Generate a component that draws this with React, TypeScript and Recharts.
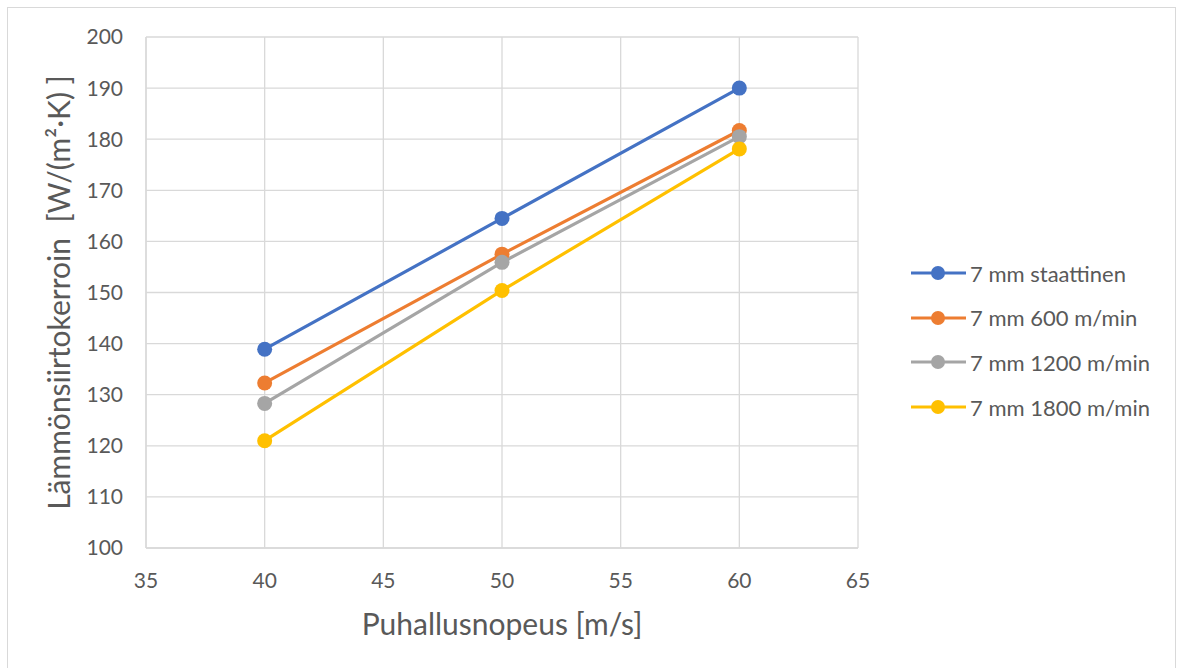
import React from 'react';
import { LineChart, Line, XAxis, YAxis, CartesianGrid, Legend } from 'recharts';

const xValues = [40, 50, 60];
const staattinen = [138.9, 164.5, 190.0];
const m600 = [132.3, 157.5, 181.7];
const m1200 = [128.3, 155.9, 180.5];
const m1800 = [121.0, 150.4, 178.1];

const xTicks = [35, 40, 45, 50, 55, 60, 65];
const yTicks = [100, 110, 120, 130, 140, 150, 160, 170, 180, 190, 200];

const seriesNames = ['7 mm staattinen', '7 mm 600 m/min', '7 mm 1200 m/min', '7 mm 1800 m/min'];
const seriesKeys = ['s1', 's2', 's3', 's4'];
const seriesColors = ['#4472C4', '#ED7D31', '#A5A5A5', '#FFC000'];
const seriesValues = [staattinen, m600, m1200, m1800];

const xTitle = 'Puhallusnopeus [m/s]';
const yTitle = 'Lämmönsiirtokerroin\u00A0 [W/(m²·K) ]';

const data = xValues.map((x, i) => {
  const row: Record<string, number> = { x };
  seriesKeys.forEach((k, j) => {
    row[k] = seriesValues[j][i];
  });
  return row;
});

const FONT = 'Lato, "Noto Sans", sans-serif';
const TEXT = '#595959';

const YTitle = (props: any) => {
  const vb = props.viewBox || {};
  const x = vb.x + 70;
  const y = vb.y + vb.height / 2;
  return (
    <text x={x} y={y} transform={`rotate(-90, ${x}, ${y})`} textAnchor="middle" fill={TEXT} fontSize={30} fontFamily={FONT}>
      {yTitle}
    </text>
  );
};

const XTitle = (props: any) => {
  const vb = props.viewBox || {};
  const x = vb.x + vb.width / 2;
  const y = vb.y + 87;
  return (
    <text x={x} y={y} textAnchor="middle" fill={TEXT} fontSize={30} fontFamily={FONT}>
      {xTitle}
    </text>
  );
};

const LegendContent = (props: any) => {
  const payload = [...(props.payload || [])].sort(
    (a: any, b: any) => seriesNames.indexOf(a.value) - seriesNames.indexOf(b.value)
  );
  return (
    <div style={{ fontFamily: FONT }}>
      {payload.map((p: any, i: number) => (
        <div key={i} style={{ display: 'flex', alignItems: 'center', height: 44.6 }}>
          <svg width={58} height={20} style={{ display: 'block' }}>
            <line x1={1} y1={10} x2={56} y2={10} stroke={p.color} strokeWidth={3.2} />
            <circle cx={28} cy={10} r={7} fill={p.color} />
          </svg>
          <span style={{ fontSize: 22, color: TEXT, marginLeft: 2, whiteSpace: 'nowrap' }}>{p.value}</span>
        </div>
      ))}
    </div>
  );
};

export default function App() {
  return (
    <div style={{ position: 'absolute', left: 0, top: 0, width: 1179, height: 668, overflow: 'hidden', background: '#fff' }}>
      <div style={{ position: 'absolute', left: 7, top: 7, width: 1169, height: 700, border: '1px solid #D9D9D9', boxSizing: 'border-box' }} />
      <div style={{ position: 'absolute', left: 0, top: 0 }}>
        <LineChart width={1179} height={668} data={data} margin={{ top: 37, right: 321, bottom: 0, left: 0 }}>
          <CartesianGrid stroke="#D9D9D9" strokeWidth={1.3} />
          <XAxis
            dataKey="x"
            type="number"
            domain={[35, 65]}
            ticks={xTicks}
            height={120}
            axisLine={{ stroke: '#D9D9D9', strokeWidth: 1.3 }}
            tickLine={false}
            tickSize={0}
            tickMargin={25}
            tick={{ fill: TEXT, fontSize: 21, fontFamily: FONT }}
            label={<XTitle />}
          />
          <YAxis
            type="number"
            domain={[100, 200]}
            ticks={yTicks}
            width={146}
            axisLine={{ stroke: '#D9D9D9', strokeWidth: 1.3 }}
            tickLine={false}
            tickSize={0}
            tickMargin={23}
            tick={{ fill: TEXT, fontSize: 21, fontFamily: FONT }}
            label={<YTitle />}
          />
          <Legend
            layout="vertical"
            align="center"
            verticalAlign="middle"
            itemSorter={null}
            wrapperStyle={{ left: 910, top: 251, width: 265 }}
            content={<LegendContent />}
          />
          {seriesKeys.map((k, i) => (
            <Line
              key={k}
              dataKey={k}
              name={seriesNames[i]}
              stroke={seriesColors[i]}
              strokeWidth={3.2}
              dot={{ r: 7.5, fill: seriesColors[i], stroke: seriesColors[i], strokeWidth: 0 }}
              activeDot={false}
              isAnimationActive={false}
            />
          ))}
        </LineChart>
      </div>
    </div>
  );
}
